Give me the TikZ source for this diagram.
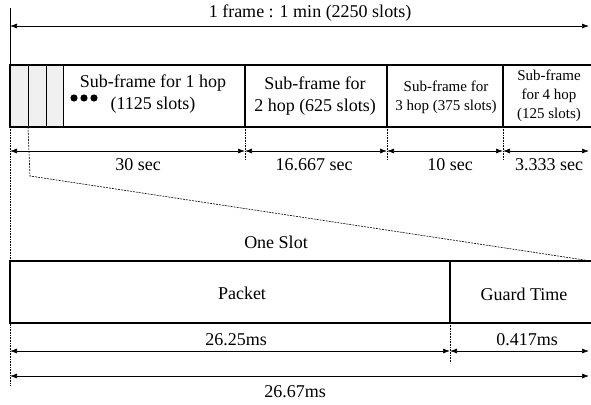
\documentclass[tikz,border=0pt]{standalone}
\usepackage{fontspec}
\setmainfont{Liberation Serif}
\usetikzlibrary{arrows.meta}
\begin{document}
\begin{tikzpicture}[x=1pt,y=-1pt,
  tip/.tip={Latex[length=7pt,width=5pt]},
  dim/.style={tip-tip, line width=0.7pt},
  boxline/.style={line width=1.4pt},
  thin/.style={line width=0.8pt},
  guide/.style={densely dotted, line width=0.6pt},
  zoomline/.style={dashed, dash pattern=on 2pt off 1pt, line width=0.6pt},
  lbl/.style={font=\fontsize{18}{22}\selectfont, inner sep=0pt, align=center},
  slbl/.style={font=\fontsize{15}{19}\selectfont, inner sep=0pt, align=center}]
\useasboundingbox (0,0) rectangle (591,404);
\clip (0,0) rectangle (591,404);
% key coordinates
\coordinate (L0) at (10,8);
\coordinate (Ltop) at (10,65);
\coordinate (Lbot) at (10,127);
\coordinate (Lend) at (10,386);
\coordinate (Fstart) at (10,26);
\coordinate (Fend) at (589,26);
\coordinate (A) at (245,127);
\coordinate (B) at (387,127);
\coordinate (C) at (503,127);
\coordinate (Aend) at (245,160);
\coordinate (Bend) at (387,160);
\coordinate (Cend) at (503,160);
% top frame arrow
\draw[thin] (L0) -- (Ltop);
\draw[dim] (Fstart) -- (Fend);
\node[lbl] (ttl) at (310,13) {1 frame : 1 min (2250 slots)};
% frame box
\fill[gray!12] (10,65) rectangle (63,127);
\draw[boxline] (594,65) -- (10,65) -- (10,127) -- (594,127);
\draw[thin] (28,65) -- (28,127) (46,65) -- (46,127) (63,65) -- (63,127);
\draw[boxline] (245,65) -- (A) (387,65) -- (B) (503,65) -- (C);
\foreach \x in {74,84,94} \fill (\x,98) circle (3.6pt);
\node[lbl] (s1) at (153,94) {Sub-frame for 1 hop\\(1125 slots)};
\node[lbl] (s2) at (315,96) {Sub-frame for\\2 hop (625 slots)};
\node[slbl] (s3) at (446,97) {Sub-frame for\\3 hop (375 slots)};
\node[slbl] (s4) at (549,96) {Sub-frame\\for 4 hop\\(125 slots)};
% segment dimension lines
\draw[guide] (Lbot) -- (Lend);
\draw[guide] (A) -- (Aend) (B) -- (Bend) (C) -- (Cend);
\coordinate (d0) at (10,151);
\coordinate (d1) at (245,151);
\coordinate (d2) at (387,151);
\coordinate (d3) at (503,151);
\coordinate (d4) at (589,151);
\draw[dim] (d0) -- (d1);
\draw[dim] (d1) -- (d2);
\draw[dim] (d2) -- (d3);
\draw[dim] (d3) -- (d4);
\node[lbl] (t1) at (138,165) {30 sec};
\node[lbl] (t2) at (314,165) {16.667 sec};
\node[lbl] (t3) at (450,165) {10 sec};
\node[lbl] (t4) at (549,165) {3.333 sec};
% zoom line
\coordinate (z0) at (28,127);
\coordinate (z1) at (30,176);
\coordinate (z2) at (591,261);
\draw[zoomline] (z0) -- (z1) -- (z2);
% slot box
\node[lbl] (one) at (276,242) {One Slot};
\draw[boxline] (594,261) -- (10,261) -- (10,323) -- (594,323);
\draw[boxline] (450,261) -- (450,323);
\node[lbl] (pk) at (242,293) {Packet};
\node[lbl] (gt) at (524,294) {Guard Time};
\coordinate (G) at (450,323);
\coordinate (Gend) at (450,363);
\draw[guide] (G) -- (Gend);
\coordinate (e0) at (10,351);
\coordinate (e1) at (450,351);
\coordinate (e2) at (589,351);
\draw[dim] (e0) -- (e1);
\draw[dim] (e1) -- (e2);
\node[lbl] (m1) at (236,340) {26.25ms};
\node[lbl] (m2) at (527,340) {0.417ms};
\coordinate (f0) at (10,376);
\coordinate (f1) at (589,376);
\draw[dim] (f0) -- (f1);
\node[lbl] (m3) at (295,392) {26.67ms};
\end{tikzpicture}
\end{document}
